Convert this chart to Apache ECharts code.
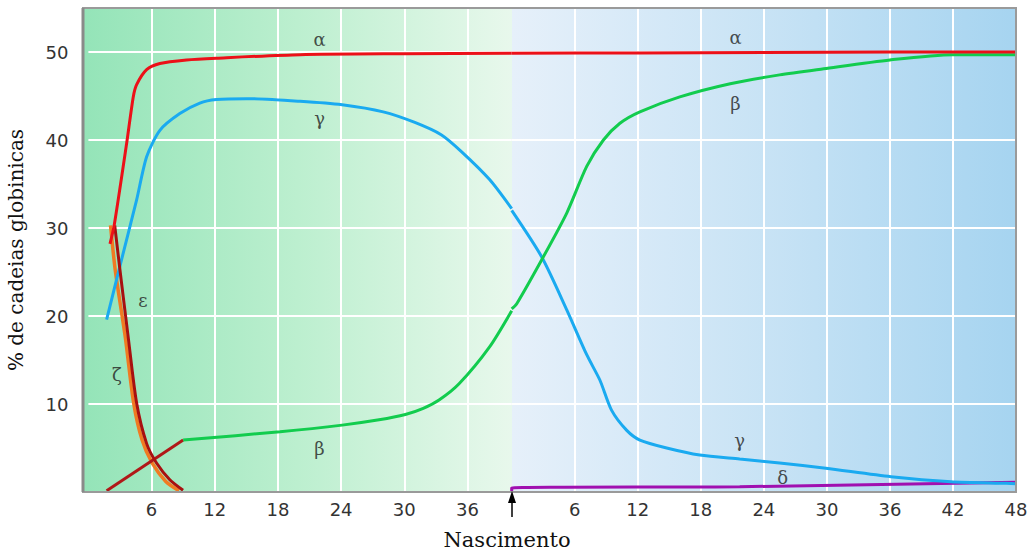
<!DOCTYPE html>
<html>
<head>
    <meta charset="UTF-8">
    <title>cadeias globinicas</title>
    <script src="https://cdn.jsdelivr.net/npm/echarts@6/dist/echarts.min.js"></script>
    <style>
        body { margin: 0; background: #fff; }
        #chart { width: 1032px; height: 554px; }
    </style>
</head>
<body>
<div id="chart"></div>
<script>
    // semanas de gestacao (antes do nascimento) e semanas de vida (depois)
    var nascimento = 40.2;
    var mesesTicks = [6, 12, 18, 24, 30, 36, 42, 48];

    // [semana, %]
    var alphaPre = [[2.05, 28.2], [2.45, 30.3], [3.63, 39.6], [4.26, 44.9], [4.58, 46.3], [5.53, 48.0], [6.79, 48.7], [9.32, 49.1], [12.16, 49.3], [20.1, 49.7], [30, 49.8], [40.2, 49.85]];
    var alphaPos = [[0, 49.85], [12, 49.9], [24, 49.95], [36, 50], [48, 50]];

    var gammaPre = [[1.73, 19.6], [3.0, 25.7], [4.58, 33.2], [5.53, 38.1], [6.79, 41.1], [8.68, 43.0], [10.58, 44.2], [12.16, 44.6], [15.0, 44.7], [20.1, 44.4], [24.1, 44.0], [28.0, 43.2], [31.0, 42.0], [33.5, 40.6], [35.5, 38.6], [38.1, 35.5], [40.2, 32.2]];
    var gammaPos = [[0, 32.0], [2.86, 26.7], [5.24, 20.7], [7.14, 15.6], [8.4, 12.7], [9.5, 9.3], [10.95, 7.0], [12.2, 5.9], [14.75, 5.0], [17.9, 4.2], [21.7, 3.75], [25.5, 3.3], [29.9, 2.7], [36.1, 1.74], [41.8, 1.17], [47.1, 0.99], [48, 0.95]];

    var betaInicio = [[1.73, 0.15], [9.0, 5.9]];
    var betaPre = [[9.0, 5.9], [18.2, 6.85], [24.1, 7.6], [27.6, 8.2], [30.1, 8.8], [31.8, 9.5], [33.3, 10.45], [35.2, 12.3], [38.1, 16.5], [40.2, 20.6]];
    var betaPos = [[0, 20.8], [0.48, 21.4], [2.86, 26.4], [5.24, 31.7], [7.14, 37.0], [8.73, 40.0], [10.3, 41.9], [12.2, 43.2], [16.0, 44.9], [20.8, 46.4], [25.5, 47.4], [29.7, 48.1], [36.0, 49.1], [42.0, 49.7], [48, 49.7]];

    var epsilon = [[2.5, 30.3], [3.0, 25.2], [3.78, 17.6], [4.58, 10.1], [5.53, 5.5], [6.47, 3.3], [7.73, 1.4], [8.99, 0.2]];
    var zeta = [[2.1, 30.3], [2.55, 25.2], [3.5, 17.6], [4.3, 10.1], [5.1, 5.9], [6.05, 3.3], [7.35, 1.2], [8.6, 0.15]];
    var delta = [[0, 0], [0, 0.45], [21.7, 0.6], [48, 1.1]];

    // rotulos gregos [semana, %, letra]
    var rotulosPre = [[21.95, 51.4, 'α'], [21.95, 42.5, 'γ'], [21.95, 5.0, 'β'], [5.17, 21.8, 'ε'], [2.7, 13.3, 'ζ']];
    var rotulosPos = [[21.3, 51.6, 'α'], [21.3, 44.2, 'β'], [21.7, 5.9, 'γ'], [25.8, 1.6, 'δ']];

    var chart = echarts.init(document.getElementById('chart'), null, {renderer: 'svg'});

    var fonteNum = {fontFamily: 'DejaVu Sans', fontSize: 18, color: '#333'};
    var linhaBranca = {show: true, showMinLine: false, showMaxLine: false, lineStyle: {color: '#fff', width: 2}};

    function linha(dados, cor, xi, z, w) {
        return {
            type: 'line', data: dados, xAxisIndex: xi, yAxisIndex: xi,
            showSymbol: false, smooth: 0.25,
            lineStyle: {color: cor, width: w || 3}, z: z || 3, silent: true
        };
    }
    function rotulos(dados, xi) {
        return {
            type: 'scatter', data: dados, xAxisIndex: xi, yAxisIndex: xi,
            symbolSize: 0, silent: true, z: 5,
            label: {
                show: true, position: 'inside',
                formatter: function (p) { return p.data[2]; },
                fontFamily: 'DejaVu Serif', fontSize: 18, color: '#222'
            }
        };
    }

    chart.setOption({
        animation: false,
        graphic: [
            {type: 'rect', z: -10, shape: {x: 83, y: 8, width: 429, height: 484},
                style: {fill: new echarts.graphic.LinearGradient(0, 0, 1, 0, [
                    {offset: 0, color: '#94e4b8'}, {offset: 0.5, color: '#bcefcf'}, {offset: 1, color: '#e8f8ec'}])}},
            {type: 'rect', z: -10, shape: {x: 512, y: 8, width: 504, height: 484},
                style: {fill: new echarts.graphic.LinearGradient(0, 0, 1, 0, [
                    {offset: 0, color: '#e6f0fa'}, {offset: 0.5, color: '#c8e3f5'}, {offset: 1, color: '#a6d4f0'}])}},
            {type: 'rect', z: 20, shape: {x: 83, y: 8, width: 933, height: 484},
                style: {fill: 'none', stroke: '#9a9a9a', lineWidth: 2}},
            {type: 'line', z: 20, shape: {x1: 83, y1: 8, x2: 83, y2: 492}, style: {stroke: '#8a8a8a', lineWidth: 3}},
            {type: 'line', z: 20, shape: {x1: 512, y1: 498, x2: 512, y2: 517}, style: {stroke: '#000', lineWidth: 1.5}},
            {type: 'polygon', z: 20, shape: {points: [[512, 491], [508, 503], [516, 503]]}, style: {fill: '#000'}},
            {type: 'text', z: 20, x: 507, y: 540,
                style: {text: 'Nascimento', fontFamily: 'DejaVu Serif', fontSize: 21, fill: '#111', align: 'center', verticalAlign: 'middle'}}
        ],
        grid: [
            {left: 88.4, right: 520.3, top: 8, bottom: 62},
            {left: 511.7, right: 16, top: 8, bottom: 62}
        ],
        xAxis: [
            {type: 'value', gridIndex: 0, min: 0, max: nascimento, interval: 6,
                axisLine: {show: false}, axisTick: {show: false},
                axisLabel: Object.assign({margin: 8, showMinLabel: false, showMaxLabel: false,
                    formatter: function (v) { return (v > 0 && v < 40) ? v : ''; }}, fonteNum),
                splitLine: linhaBranca},
            {type: 'value', gridIndex: 1, min: 0, max: 48, interval: 6,
                axisLine: {show: false}, axisTick: {show: false},
                axisLabel: Object.assign({margin: 8, showMinLabel: false,
                    formatter: function (v) { return mesesTicks.indexOf(v) >= 0 ? v : ''; }}, fonteNum),
                splitLine: linhaBranca}
        ],
        yAxis: [
            {type: 'value', gridIndex: 0, min: 0, max: 55, interval: 10,
                name: '% de cadeias globinicas', nameLocation: 'middle', nameGap: 62, nameRotate: 90,
                nameTextStyle: {fontFamily: 'DejaVu Serif', fontSize: 20, color: '#111'},
                axisLine: {show: false}, axisTick: {show: false},
                axisLabel: Object.assign({margin: 20,
                    formatter: function (v) { return (v > 0 && v <= 50) ? v : ''; }}, fonteNum),
                splitLine: linhaBranca},
            {type: 'value', gridIndex: 1, min: 0, max: 55, interval: 10,
                axisLine: {show: false}, axisTick: {show: false}, axisLabel: {show: false},
                splitLine: linhaBranca}
        ],
        series: [
            linha(zeta, '#f07a22', 0, 3, 3.5),
            linha(epsilon, '#a81010', 0, 4, 3),
            linha(betaInicio, '#b01818', 0, 3),
            linha(gammaPre, '#1aaaf0', 0, 3),
            linha(betaPre, '#12cc4e', 0, 3),
            linha(alphaPre, '#ec1018', 0, 4),
            linha(delta, '#a010b0', 1, 3),
            linha(gammaPos, '#1aaaf0', 1, 3),
            linha(betaPos, '#12cc4e', 1, 3),
            linha(alphaPos, '#ec1018', 1, 4),
            rotulos(rotulosPre, 0),
            rotulos(rotulosPos, 1)
        ]
    });
</script>
</body>
</html>
